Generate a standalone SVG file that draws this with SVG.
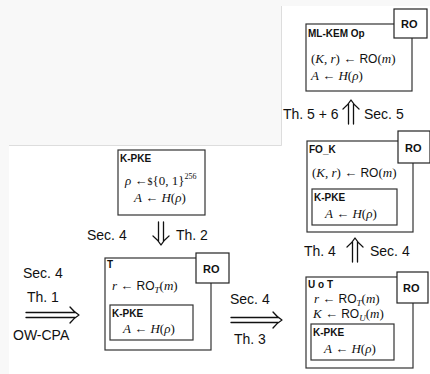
<svg xmlns="http://www.w3.org/2000/svg" width="430" height="374" viewBox="0 0 430 374">
  <style>
    .box { fill: #ffffff; stroke: #333333; stroke-width: 1.2; }
    .ro { fill: #ffffff; stroke: #222222; stroke-width: 1.2; }
    .lbl { font-family: "Liberation Sans", Arial, sans-serif; font-size: 14px; fill: #111111; }
    .hd { font-family: "Liberation Sans", Arial, sans-serif; font-size: 10px; font-weight: bold; fill: #111111; }
    .rot { font-family: "Liberation Sans", Arial, sans-serif; font-size: 11px; font-weight: bold; fill: #111111; }
    .m { font-family: "Liberation Serif", "Times New Roman", serif; font-size: 13px; fill: #111111; }
    .i { font-style: italic; }
    .s { font-family: "Liberation Sans", Arial, sans-serif; font-size: 12px; }
    .arr { fill: none; stroke: #111111; stroke-width: 1.3; stroke-linecap: round; stroke-linejoin: round; }
  </style>

  <!-- page background: grey margins around the white canvas -->
  <rect x="0" y="0" width="430" height="374" fill="#f8f8f8"/>
  <polygon points="282,6 430,6 430,374 9,374 9,146 282,146" fill="#ffffff"/>
  <polyline points="9,145.5 281.5,145.5 281.5,6" fill="none" stroke="#dddddd" stroke-width="1"/>

  <!-- ML-KEM Op -->
  <g id="mlkem-op">
    <rect class="box" x="306" y="24" width="106" height="67"/>
    <rect class="ro" x="394" y="9" width="33" height="29"/>
    <text class="rot" x="401" y="28">RO</text>
    <text class="hd" x="308" y="37">ML-KEM Op</text>
    <text class="m" x="311" y="63">(<tspan class="i">K</tspan>, <tspan class="i">r</tspan>) ← <tspan class="s">RO</tspan>(<tspan class="i">m</tspan>)</text>
    <text class="m" x="311" y="80"><tspan class="i">A</tspan> ← <tspan class="i">H</tspan>(<tspan class="i">ρ</tspan>)</text>
  </g>

  <!-- FO_K -->
  <g id="fo-k">
    <rect class="box" x="307" y="141" width="106" height="91"/>
    <rect class="ro" x="398" y="131" width="32" height="32"/>
    <text class="rot" x="405" y="152">RO</text>
    <text class="hd" x="309" y="153">FO_K</text>
    <text class="m" x="312" y="177">(<tspan class="i">K</tspan>, <tspan class="i">r</tspan>) ← <tspan class="s">RO</tspan>(<tspan class="i">m</tspan>)</text>
    <rect class="box" x="312" y="189" width="85" height="36"/>
    <text class="hd" x="314" y="201">K-PKE</text>
    <text class="m" x="325" y="218"><tspan class="i">A</tspan> ← <tspan class="i">H</tspan>(<tspan class="i">ρ</tspan>)</text>
  </g>

  <!-- K-PKE -->
  <g id="k-pke">
    <rect class="box" x="118" y="150" width="87" height="65"/>
    <text class="hd" x="120" y="162">K-PKE</text>
    <text class="m" x="125" y="185"><tspan class="i">ρ</tspan> ←<tspan font-size="10">$</tspan>{0, 1}<tspan font-size="8" dy="-6">256</tspan></text>
    <text class="m" x="134" y="202"><tspan class="i">A</tspan> ← <tspan class="i">H</tspan>(<tspan class="i">ρ</tspan>)</text>
  </g>

  <!-- T -->
  <g id="t">
    <rect class="box" x="105" y="258" width="106" height="92"/>
    <rect class="ro" x="196" y="253" width="33" height="30"/>
    <text class="rot" x="203" y="273">RO</text>
    <text class="hd" x="107" y="268">T</text>
    <text class="m" x="112" y="290"><tspan class="i">r</tspan> ← <tspan class="s">RO</tspan><tspan class="i" font-size="9" dy="3">T</tspan><tspan dy="-3">(</tspan><tspan class="i">m</tspan>)</text>
    <rect class="box" x="110" y="305" width="83" height="35"/>
    <text class="hd" x="112" y="317">K-PKE</text>
    <text class="m" x="123" y="333"><tspan class="i">A</tspan> ← <tspan class="i">H</tspan>(<tspan class="i">ρ</tspan>)</text>
  </g>

  <!-- U o T -->
  <g id="u-o-t">
    <rect class="box" x="306" y="277" width="107" height="91"/>
    <rect class="ro" x="397" y="272" width="31" height="31"/>
    <text class="rot" x="403" y="292">RO</text>
    <text class="hd" x="308" y="288">U o T</text>
    <text class="m" x="314" y="303"><tspan class="i">r</tspan> ← <tspan class="s">RO</tspan><tspan class="i" font-size="9" dy="3">T</tspan><tspan dy="-3">(</tspan><tspan class="i">m</tspan>)</text>
    <text class="m" x="313" y="318"><tspan class="i">K</tspan> ← <tspan class="s">RO</tspan><tspan class="i" font-size="9" dy="3">U</tspan><tspan dy="-3">(</tspan><tspan class="i">m</tspan>)</text>
    <rect class="box" x="311" y="324" width="83" height="36"/>
    <text class="hd" x="313" y="336">K-PKE</text>
    <text class="m" x="324" y="353"><tspan class="i">A</tspan> ← <tspan class="i">H</tspan>(<tspan class="i">ρ</tspan>)</text>
  </g>

  <!-- implication arrows and their labels -->
  <g id="connectors">
    <!-- OW-CPA => T -->
    <path class="arr" d="M26,312.5 H75 M26,317.5 H75 M70,307 Q74,312 79,315 Q74,318 70,323"/>
    <text class="lbl" x="23" y="278">Sec. 4</text>
    <text class="lbl" x="27" y="302">Th. 1</text>
    <text class="lbl" x="13" y="340">OW-CPA</text>

    <!-- K-PKE => T -->
    <path class="arr" d="M158.5,222 V241 M163.5,222 V241 M153,236 Q158,240 161,245 Q164,240 169,236"/>
    <text class="lbl" x="87" y="240">Sec. 4</text>
    <text class="lbl" x="176" y="240">Th. 2</text>

    <!-- T => U o T -->
    <path class="arr" d="M231,317.5 H278 M231,322.5 H278 M273,312 Q277,317 282,320 Q277,323 273,328"/>
    <text class="lbl" x="230" y="304">Sec. 4</text>
    <text class="lbl" x="234" y="344">Th. 3</text>

    <!-- U o T => FO_K -->
    <path class="arr" d="M352.5,242 V262 M357.5,242 V262 M347,247 Q352,243 355,238 Q358,243 363,247"/>
    <text class="lbl" x="304" y="256">Th. 4</text>
    <text class="lbl" x="370" y="256">Sec. 4</text>

    <!-- FO_K => ML-KEM Op -->
    <path class="arr" d="M348.5,104 V124 M353.5,104 V124 M343,109 Q348,105 351,100 Q354,105 359,109"/>
    <text class="lbl" x="283" y="119">Th. 5 + 6</text>
    <text class="lbl" x="364" y="119">Sec. 5</text>
  </g>
</svg>
